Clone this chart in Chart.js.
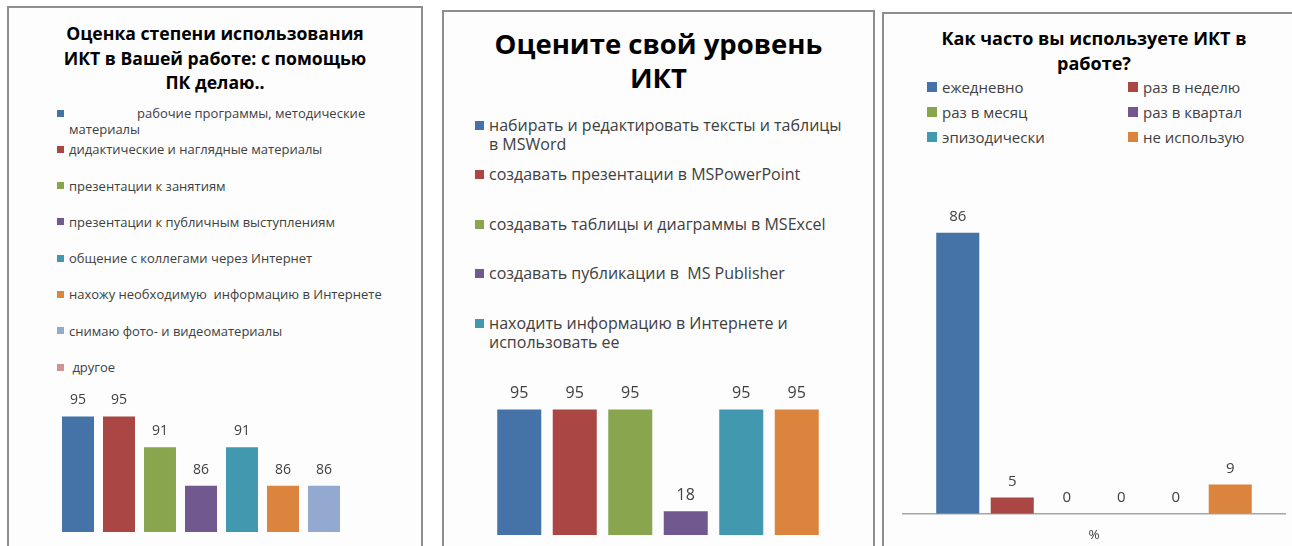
<!DOCTYPE html>
<html lang="ru">
<head>
<meta charset="utf-8">
<script src="https://cdn.jsdelivr.net/npm/chart.js@4.4.1/dist/chart.umd.min.js"></script>
<style>
  body { margin: 0; width: 1292px; height: 546px; overflow: hidden; background: #fff; font-family: "Open Sans", sans-serif; position: relative; }
  .panel { position: absolute; border: 2px solid #8e8e8e; background: #fdfdfd; box-sizing: border-box; }
  .title { position: absolute; text-align: center; font-weight: bold; color: #000; white-space: nowrap; }
  .legend { position: absolute; color: #404040; }
  .item { display: flex; align-items: flex-start; }
  .item span:last-child { white-space: pre-wrap; }
  .box { flex: none; }
  .chart { position: absolute; }
</style>
</head>
<body>
<div class="panel" style="left:7px;top:6px;width:416px;height:600px"></div>
<div class="panel" style="left:442px;top:10px;width:433px;height:600px"></div>
<div class="panel" style="left:882px;top:12px;width:440px;height:600px"></div>

<div class="title" id="title1" style="left:9px;width:412px;top:21px;font-size:17.6px;line-height:24.5px"></div>
<div class="title" id="title2" style="left:444px;width:429px;top:27px;font-size:27.5px;line-height:34px"></div>
<div class="title" id="title3" style="left:884px;width:420px;top:25.5px;font-size:18px;line-height:25px"></div>

<div class="legend" id="legend1" style="left:57px;top:105px;width:332px;font-size:13px;line-height:16px"></div>
<div class="legend" id="legend2" style="left:475px;top:115.5px;width:376px;font-size:16px;line-height:19px"></div>
<div class="legend" id="legend3" style="left:927px;top:78px;width:360px;font-size:15px;line-height:18px;display:grid;grid-template-columns:201px 160px"></div>

<div class="chart" style="left:9px;top:370px;width:410px;height:176px"><canvas id="chart1"></canvas></div>
<div class="chart" style="left:444px;top:380px;width:429px;height:166px"><canvas id="chart2"></canvas></div>
<div class="chart" style="left:884px;top:170px;width:408px;height:386px"><canvas id="chart3"></canvas></div>

<script>
const palette = ["#4572A7", "#AA4643", "#89A54E", "#71588F", "#4198AF", "#DB843D", "#93A9CF", "#D19392"];

// панель 1
const title1 = ["Оценка степени использования", "ИКТ в Вашей работе: с помощью", "ПК делаю.."];
const names1 = [
  "рабочие программы, методические материалы",
  "дидактические и наглядные материалы",
  "презентации к занятиям",
  "презентации к публичным выступлениям",
  "общение с коллегами через Интернет",
  "нахожу необходимую  информацию в Интернете",
  "снимаю фото- и видеоматериалы",
  " другое",
];
const values1 = [95, 95, 91, 86, 91, 86, 86, null];

// панель 2
const title2 = ["Оцените свой уровень", "ИКТ"];
const names2 = [
  "набирать и редактировать тексты и таблицы в MSWord",
  "создавать презентации в MSPowerPoint",
  "создавать таблицы и диаграммы в MSExcel",
  "создавать публикации в  MS Publisher",
  "находить информацию в Интернете и использовать ее",
];
const values2 = [95, 95, 95, 18, 95, 95];

// панель 3
const title3 = ["Как часто вы используете ИКТ в", "работе?"];
const names3 = ["ежедневно", "раз в неделю", "раз в месяц", "раз в квартал", "эпизодически", "не использую"];
const values3 = [86, 5, 0, 0, 0, 9];
const category3 = "%";

document.getElementById("title1").innerHTML = title1.join("<br>");
document.getElementById("title2").innerHTML = title2.join("<br>");
document.getElementById("title3").innerHTML = title3.join("<br>");

function buildLegend(id, names, s) {
  const el = document.getElementById(id);
  names.forEach((name, i) => {
    const item = document.createElement("div");
    item.className = "item";
    item.style.height = s.rowH + "px";
    const box = document.createElement("span");
    box.className = "box";
    box.style.cssText = `width:${s.box}px;height:${s.box}px;margin-top:${s.boxTop}px;margin-right:${s.gap}px;background:${palette[i]}`;
    const txt = document.createElement("span");
    txt.textContent = name;
    if (i === 0 && s.indent) txt.style.textIndent = s.indent + "px";
    item.appendChild(box);
    item.appendChild(txt);
    el.appendChild(item);
  });
}
buildLegend("legend1", names1, { rowH: 36.3, box: 7, boxTop: 4.5, gap: 5, indent: 68 });
buildLegend("legend2", names2, { rowH: 49.5, box: 9, boxTop: 5, gap: 5 });
buildLegend("legend3", names3, { rowH: 25, box: 10, boxTop: 4, gap: 5 });

const valueLabels = {
  id: "valueLabels",
  afterDatasetsDraw(chart, args, opts) {
    const ctx = chart.ctx;
    ctx.save();
    ctx.font = opts.font;
    ctx.fillStyle = "#404040";
    ctx.textAlign = "center";
    ctx.textBaseline = "middle";
    chart.data.datasets.forEach((ds, i) => {
      const meta = chart.getDatasetMeta(i);
      meta.data.forEach((bar, j) => {
        const v = ds.data[j];
        if (v === null) return;
        ctx.fillText(String(v), bar.x, bar.y - opts.offset);
      });
    });
    ctx.restore();
  },
};

function makeChart(id, names, values, o) {
  return new Chart(document.getElementById(id), {
    type: "bar",
    data: {
      labels: [o.category || ""],
      datasets: values.map((v, i) => ({
        label: names[i] || "",
        data: [v],
        backgroundColor: palette[i],
        categoryPercentage: o.cat,
        barPercentage: o.bar,
      })),
    },
    options: {
      responsive: true,
      maintainAspectRatio: false,
      animation: false,
      layout: { padding: o.padding },
      plugins: {
        legend: { display: false },
        tooltip: { enabled: false },
        valueLabels: { font: o.labelSize + 'px "Open Sans"', offset: 16 },
      },
      scales: {
        x: {
          display: !!o.showX,
          grid: { display: false, drawTicks: false },
          border: { display: true, color: "#a6a6a6", width: 1.5 },
          ticks: { color: "#404040", padding: 13, font: { family: "Open Sans", size: 13.5 } },
        },
        y: { display: false, min: o.min, max: o.max },
      },
    },
    plugins: [valueLabels],
  });
}

makeChart("chart1", names1, values1, {
  cat: 0.841, bar: 0.78, min: 80, max: 100, labelSize: 14,
  padding: { left: 17.5, right: 2.5, top: 8, bottom: 14 },
});
makeChart("chart2", names2, values2, {
  cat: 0.9, bar: 0.793, min: 0, max: 100, labelSize: 16,
  padding: { left: 29, right: 30, top: 23, bottom: 11 },
});
makeChart("chart3", names3, values3, {
  cat: 0.856, bar: 0.79, min: 0, max: 100, labelSize: 15, showX: true, category: category3,
  padding: { left: 19, right: 7, top: 17, bottom: 0 },
});
</script>
</body>
</html>
